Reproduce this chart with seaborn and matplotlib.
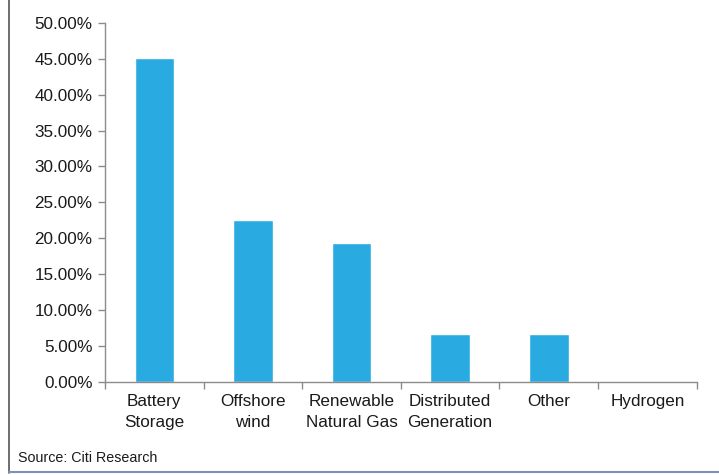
import numpy as np
import pandas as pd
import matplotlib.pyplot as plt
import seaborn as sns
from matplotlib.ticker import FuncFormatter, FixedLocator
from matplotlib.lines import Line2D

categories = ["Battery\nStorage", "Offshore\nwind", "Renewable\nNatural Gas",
              "Distributed\nGeneration", "Other", "Hydrogen"]
shares = [45.1, 22.6, 19.3, 6.6, 6.6, 0.0]

df = pd.DataFrame({"cat": categories, "share": shares})

sns.set_theme(style="white")
plt.rcParams['font.family'] = ['Liberation Sans', 'DejaVu Sans']

fig = plt.figure(figsize=(7.19, 4.75), dpi=100)
ax = fig.add_axes([0.146, 0.196, 0.823, 0.756])

sns.barplot(data=df, x="cat", y="share", color="#29abe2", saturation=1,
            width=0.4, ax=ax)

axis_col = "#8c8c8c"
ax.set_xlim(-0.5, len(categories) - 0.5)
ax.set_ylim(0, 50)
ax.set_yticks(np.arange(0, 50.1, 5))
ax.yaxis.set_major_formatter(FuncFormatter(lambda v, p: f"{v:.2f}%"))

# ticks on category boundaries, labels centred
ax.xaxis.set_major_locator(FixedLocator(np.arange(-0.5, len(categories), 1)))
ax.xaxis.set_minor_locator(FixedLocator(np.arange(len(categories))))
ax.set_xticklabels([""] * (len(categories) + 1))
ax.set_xticklabels(categories, minor=True)
ax.tick_params(axis="x", which="major", length=5, width=1, color=axis_col, direction="out")
ax.tick_params(axis="x", which="minor", length=0, pad=9, labelsize=12.3, labelcolor="#1a1a1a")
ax.tick_params(axis="y", length=5, width=1, color=axis_col, direction="out",
               labelsize=12.3, labelcolor="#1a1a1a", pad=4)
ax.tick_params(bottom=True, left=True)
for lbl in ax.get_xticklabels(minor=True):
    lbl.set_linespacing(1.45)

ax.set_xlabel("")
ax.set_ylabel("")
sns.despine(ax=ax)
for s in ["left", "bottom"]:
    ax.spines[s].set_color(axis_col)
    ax.spines[s].set_linewidth(1)

fig.text(0.025, 0.027, "Source: Citi Research", fontsize=10.3, color="#1a1a1a")

# outer frame lines
fig.add_artist(Line2D([0.013, 0.013], [0.005, 1.0], color="#555555", lw=1.2, transform=fig.transFigure))
fig.add_artist(Line2D([0.013, 1.0], [0.006, 0.006], color="#7f8fb8", lw=1.5, transform=fig.transFigure))

fig.savefig("out.png", dpi=100)
